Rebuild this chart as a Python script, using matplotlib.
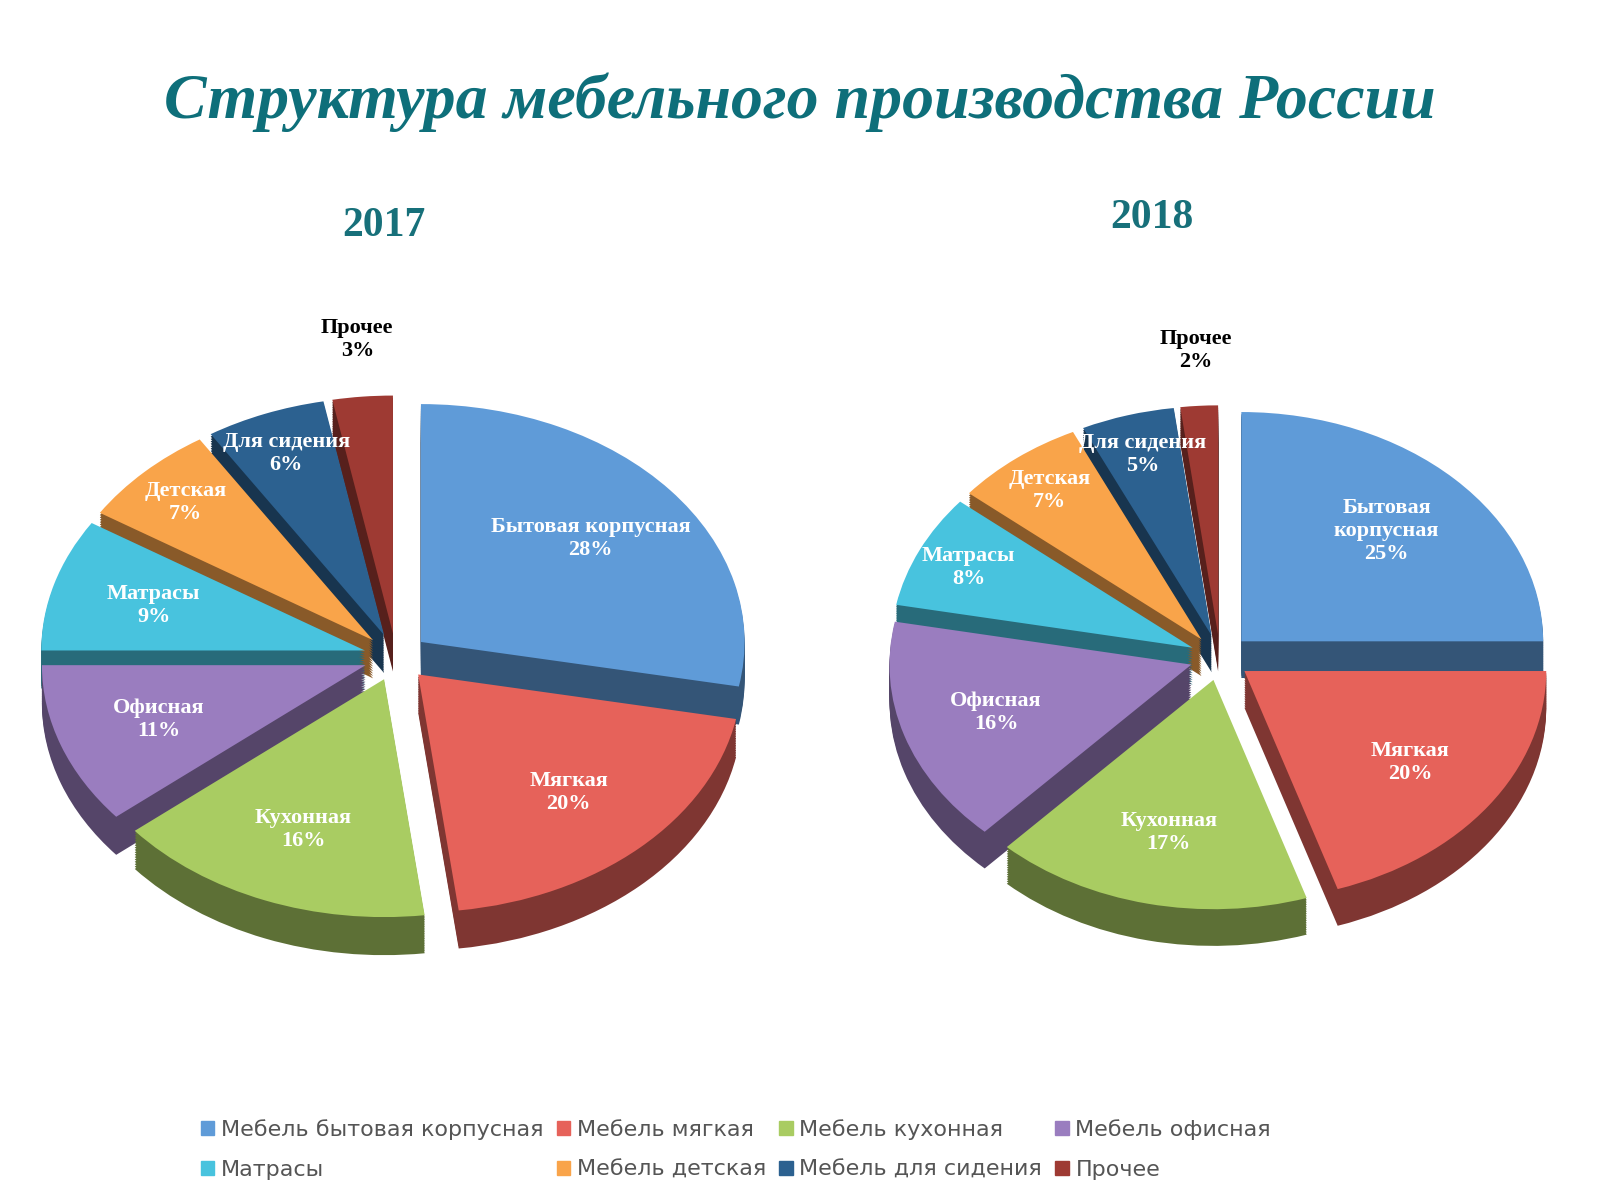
import matplotlib
matplotlib.use("Agg")
import matplotlib.pyplot as plt
from matplotlib.patches import Patch
import numpy as np
import matplotlib.colors as mc

categories = ["Мебель бытовая корпусная", "Мебель мягкая", "Мебель кухонная", "Мебель офисная",
              "Матрасы", "Мебель детская", "Мебель для сидения", "Прочее"]
short_labels = ["Бытовая корпусная", "Мягкая", "Кухонная", "Офисная",
                "Матрасы", "Детская", "Для сидения", "Прочее"]
short_labels_2018 = ["Бытовая\nкорпусная", "Мягкая", "Кухонная", "Офисная",
                     "Матрасы", "Детская", "Для сидения", "Прочее"]
values_2017 = [28, 20, 16, 11, 9, 7, 6, 3]
values_2018 = [25, 20, 17, 16, 8, 7, 5, 2]
colors = ["#5F9BD8", "#E6625A", "#A9CC62", "#9A7DBF", "#48C3DE", "#F9A44A", "#2C6190", "#9E3A33"]

def darker(c, f=0.55):
    r, g, b = mc.to_rgb(c)
    return (r * f, g * f, b * f)

fig = plt.figure(figsize=(16, 12), dpi=100)
fig.text(0.5, 0.915, "Структура мебельного производства России", ha="center", va="center",
         fontsize=46, fontstyle="italic", fontweight="bold", family="Liberation Serif", color="#0E6F7A")

def draw(rect, vals, labels, year, yearpos):
    ax = fig.add_axes(rect)
    explode = [0.1] * len(vals)
    depth = 0.16
    steps = 16
    for k in range(steps, 0, -1):
        ax.pie(vals, colors=[darker(c) for c in colors], startangle=90, counterclock=False,
               explode=explode, center=(0, -depth * k / steps), wedgeprops=dict(linewidth=0))
    wedges, _ = ax.pie(vals, colors=colors, startangle=90, counterclock=False,
                       explode=explode, wedgeprops=dict(linewidth=0))
    for w, lab, v in zip(wedges, labels, vals):
        ang = np.deg2rad((w.theta1 + w.theta2) / 2)
        cx, cy = w.center
        if lab == "Прочее":
            r = 1.17
            ax.text(cx + r * np.cos(ang), cy + r * np.sin(ang) + 0.07, f"{lab}\n{v}%", ha="center", va="center",
                    fontsize=16, fontweight="bold", family="Liberation Serif", color="black")
        else:
            r = 0.68 if v > 8 else 0.82
            ax.text(cx + r * np.cos(ang), cy + r * np.sin(ang), f"{lab}\n{v}%", ha="center", va="center",
                    fontsize=16, fontweight="bold", family="Liberation Serif", color="white")
    ax.set_aspect("auto")
    ax.set_xlim(-1.1, 1.1)
    ax.set_ylim(-1.45, 1.35)
    ax.axis("off")
    fig.text(yearpos[1], yearpos[0], year, ha="center", va="center", fontsize=30,
             fontweight="bold", family="Liberation Serif", color="#17707A")

draw([0.025, 0.165, 0.445, 0.555], values_2017, short_labels, "2017", (0.812, 0.24))
draw([0.555, 0.175, 0.415, 0.535], values_2018, short_labels_2018, "2018", (0.818, 0.72))

order = [0, 4, 1, 5, 2, 6, 3, 7]
handles = [Patch(color=colors[i], label=categories[i]) for i in order]
fig.legend(handles=handles, loc="lower center", bbox_to_anchor=(0.46, 0.0), ncol=4, frameon=False,
           handlelength=0.6, handleheight=0.6, handletextpad=0.3, columnspacing=0.6,
           labelspacing=0.9, labelcolor="#555555", prop={"family": "DejaVu Sans", "size": 16})
fig.savefig("out.png", dpi=100)
